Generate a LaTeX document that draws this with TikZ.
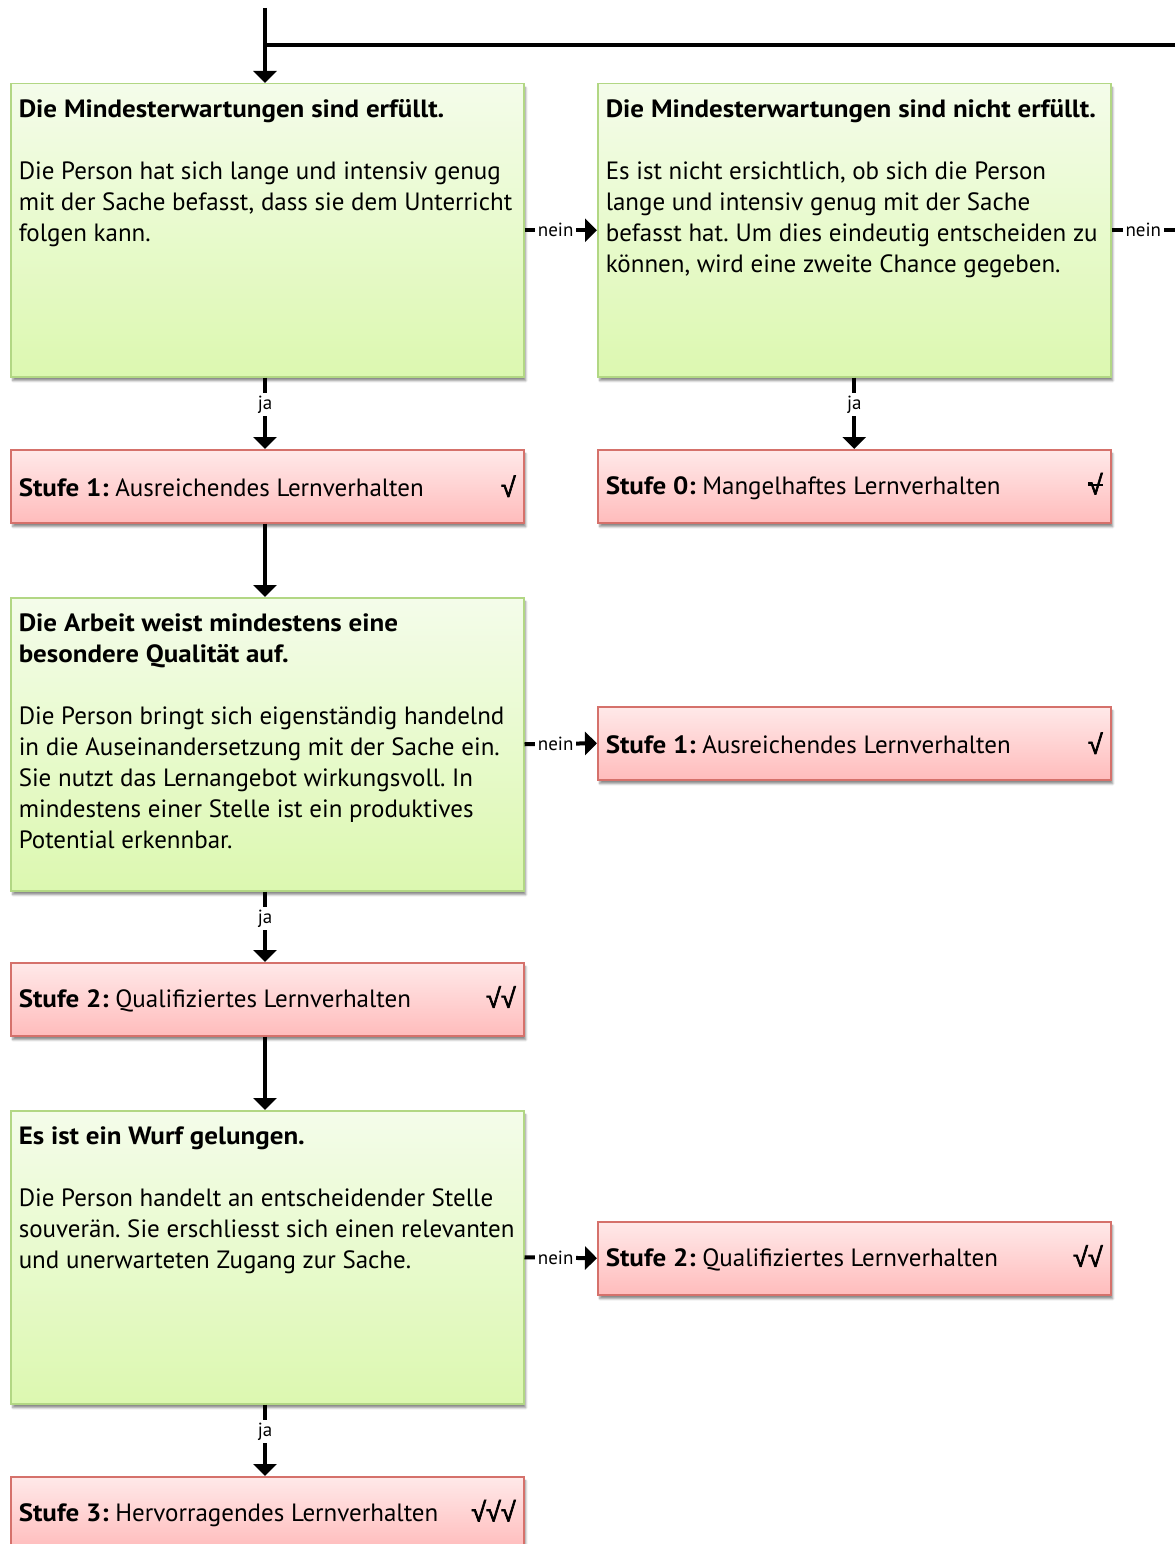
\documentclass[tikz,border=0pt]{standalone}
\usepackage{fontspec}
\setmainfont{PT Sans}[BoldFeatures={FakeStretch=1.08}]
\newfontfamily\symfont{Liberation Sans}[FakeBold=2.5]
\usetikzlibrary{positioning,shadows.blur,arrows.meta}

\definecolor{critTop}{HTML}{F4FCEA}
\definecolor{critBot}{HTML}{DCF8B0}
\definecolor{critLine}{HTML}{B2D784}
\definecolor{levelTop}{HTML}{FFE9E9}
\definecolor{levelBot}{HTML}{FFBCBC}
\definecolor{levelLine}{HTML}{D5716B}

\newcommand{\critbox}[2]{\parbox[c][277pt][t]{497pt}{\vspace*{8pt}\textbf{#1}\par\vspace{31pt}#2}}
\newcommand{\levelbox}[3]{\parbox{497pt}{\textbf{#1} #2\hfill{\symfont\fontsize{27}{31}\selectfont #3}}}
\newcommand{\ok}{√}
\newcommand{\notok}{\rlap{√}\raisebox{0.3em}{\rule{0.55em}{2pt}}}

\tikzset{
  boxbase/.style={anchor=north west,line width=1.5pt,inner sep=8pt,
    font=\fontsize{25}{31}\selectfont\frenchspacing,
    blur shadow={shadow xshift=2pt,shadow yshift=-4pt,shadow blur steps=6,shadow opacity=45}},
  crit/.style={boxbase,draw=critLine,top color=critTop,bottom color=critBot,
    minimum width=513pt,minimum height=293pt},
  level/.style={boxbase,draw=levelLine,top color=levelTop,bottom color=levelBot,
    minimum width=513pt,minimum height=73pt},
  flow/.style={line width=4pt,-{Triangle[width=23pt,length=12pt]}},
  bar/.style={line width=4pt},
  lbl/.style={fill=white,inner sep=3pt,font=\fontsize{19}{22}\selectfont}
}

\begin{document}
\begin{tikzpicture}[x=1pt,y=-1pt]
  \useasboundingbox (0,0) rectangle (1175,1544);

  % Mindesterwartungen
  \node[crit] (crit1) at (10,83) {\critbox{Die Mindesterwartungen sind erfüllt.}
    {Die Person hat sich lange und intensiv genug\\
     mit der Sache befasst, dass sie dem Unterricht\\
     folgen kann.}};
  \node[crit] (crit1b) at (597,83) {\critbox{Die Mindesterwartungen sind nicht erfüllt.}
    {Es ist nicht ersichtlich, ob sich die Person\\
     lange und intensiv genug mit der Sache\\
     befasst hat. Um dies eindeutig entscheiden zu\\
     können, wird eine zweite Chance gegeben.}};
  \node[level] (lev1) at (10,449) {\levelbox{Stufe 1:}{Ausreichendes Lernverhalten}{\ok}};
  \node[level] (lev0) at (597,449) {\levelbox{Stufe 0:}{Mangelhaftes Lernverhalten}{\notok}};

  % besondere Qualitaet
  \node[crit] (crit2) at (10,597) {\critbox{Die Arbeit weist mindestens eine\\ besondere Qualität auf.}
    {Die Person bringt sich eigenständig handelnd\\
     in die Auseinandersetzung mit der Sache ein.\\
     Sie nutzt das Lernangebot wirkungsvoll. In\\
     mindestens einer Stelle ist ein produktives\\
     Potential erkennbar.}};
  \node[level] (lev1b) at (597,706) {\levelbox{Stufe 1:}{Ausreichendes Lernverhalten}{\ok}};
  \node[level] (lev2) at (10,962) {\levelbox{Stufe 2:}{Qualifiziertes Lernverhalten}{\ok\ok}};

  % Wurf
  \node[crit] (crit3) at (10,1110) {\critbox{Es ist ein Wurf gelungen.}
    {Die Person handelt an entscheidender Stelle\\
     souverän. Sie erschliesst sich einen relevanten\\
     und unerwarteten Zugang zur Sache.}};
  \node[level] (lev2b) at (597,1221) {\levelbox{Stufe 2:}{Qualifiziertes Lernverhalten}{\ok\ok}};
  \node[level] (lev3) at (10,1476) {\levelbox{Stufe 3:}{Hervorragendes Lernverhalten}{\ok\ok\ok}};

  % connectors
  \coordinate (entry) at (265,8);
  \coordinate (loop) at (1175,45);
  \coordinate (exit) at (1175,227);
  \draw[flow] (entry) -- (entry |- crit1.north);
  \draw[bar] (loop) -- (entry |- loop);
  \draw[bar] (crit1b.east) -- node[lbl] {nein} (exit |- crit1b.east);

  \draw[flow] (crit1.east) -- node[lbl,pos=0.43] {nein} (crit1b.west);
  \draw[flow] (crit1.south -| entry) -- node[lbl,pos=0.38] {ja} (lev1.north -| entry);
  \draw[flow] (crit1b.south) -- node[lbl,pos=0.38] {ja} (lev0.north);
  \draw[flow] (lev1.south -| entry) -- (crit2.north -| entry);

  \draw[flow] (crit2.east) -- node[lbl,pos=0.43] {nein} (lev1b.west);
  \draw[flow] (crit2.south -| entry) -- node[lbl,pos=0.38] {ja} (lev2.north -| entry);
  \draw[flow] (lev2.south -| entry) -- (crit3.north -| entry);

  \draw[flow] (crit3.east) -- node[lbl,pos=0.43] {nein} (lev2b.west);
  \draw[flow] (crit3.south -| entry) -- node[lbl,pos=0.38] {ja} (lev3.north -| entry);
\end{tikzpicture}
\end{document}
